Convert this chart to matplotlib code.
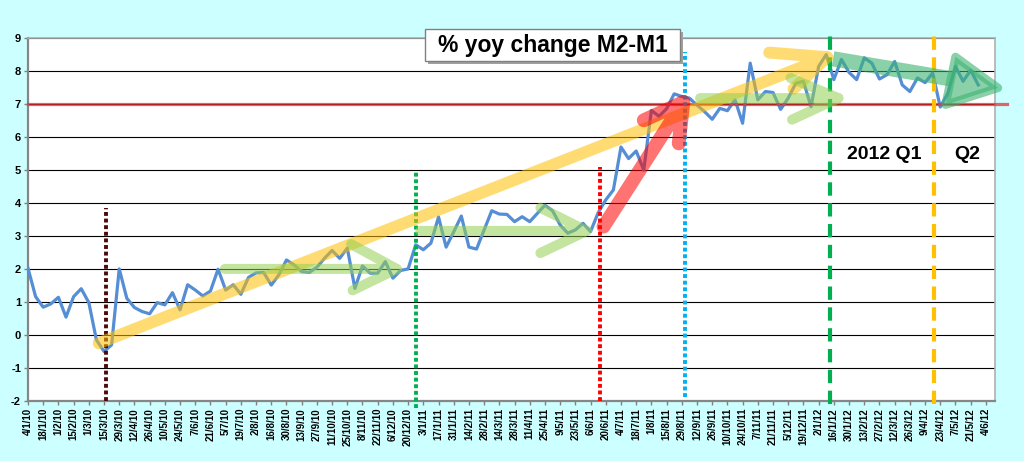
import matplotlib
matplotlib.use("Agg")
import matplotlib.pyplot as plt
import pandas as pd
from matplotlib.path import Path
from matplotlib.patches import PathPatch, Polygon, Rectangle

plt.rcParams["font.family"] = ["Liberation Sans", "DejaVu Sans"]

# weekly % yoy change of M2-M1, from 4/1/10
yoy = [
    2.02, 1.16, 0.84, 0.94, 1.14, 0.54, 1.16, 1.40, 0.98, -0.15,
    -0.50, -0.30, 2.00, 1.11, 0.83, 0.71, 0.64, 0.98, 0.91, 1.28,
    0.76, 1.52, 1.36, 1.18, 1.33, 1.99, 1.36, 1.52, 1.23, 1.74,
    1.88, 1.89, 1.51, 1.82, 2.27, 2.12, 1.92, 1.89, 2.05, 2.32,
    2.56, 2.32, 2.63, 1.41, 2.09, 1.87, 1.87, 2.22, 1.72, 1.95,
    2.00, 2.73, 2.58, 2.78, 3.57, 2.66, 3.12, 3.60, 2.66, 2.60,
    3.18, 3.76, 3.66, 3.65, 3.43, 3.58, 3.43, 3.68, 3.93, 3.76,
    3.33, 3.08, 3.18, 3.38, 3.13, 3.70, 4.09, 4.39, 5.69, 5.34,
    5.57, 4.99, 6.80, 6.62, 6.85, 7.30, 7.22, 7.17, 6.96, 6.76,
    6.53, 6.86, 6.79, 7.12, 6.41, 8.23, 7.12, 7.37, 7.34, 6.83,
    7.17, 7.62, 7.68, 6.91, 8.13, 8.49, 7.73, 8.34, 7.95, 7.73,
    8.39, 8.23, 7.75, 7.88, 8.28, 7.57, 7.37, 7.78, 7.64, 7.93,
    6.90, 7.32, 8.13, 7.68, 8.01, 7.57,
]

# category axis: weekly dates, labelled every 2 weeks
weeks = pd.date_range("2010-01-04", periods=128, freq="7D")
tick_pos = list(range(0, 128, 2))
tick_labels = [f"{d.day}/{d.month}/{d.strftime('%y')}" for d in weeks[::2]]

# marker lines (week index)
vlines = [
    # x, y0, y1, color, style
    (10.2, -2.0, 3.85, "#4d0a0a", "dot"),
    (51.0, -2.2, 5.0, "#00b050", "dot"),
    (75.2, -2.0, 5.1, "#ff0000", "dot"),
    (86.4, -1.87, 8.58, "#00b0f0", "dot"),
    (105.5, -2.1, 9.15, "#00b050", "dash"),
    (119.2, -2.1, 9.15, "#ffc000", "dash"),
]

fig = plt.figure(figsize=(10.24, 4.61), dpi=100, facecolor="#ccffff")
ax = fig.add_axes([28 / 1024, 1 - 401 / 461, 967 / 1024, (401 - 37.7) / 461])
ax.set_facecolor("white")

ax.set_xlim(0, 127.2)
ax.set_ylim(-2, 9)
ax.set_yticks(range(-2, 10))
ax.set_yticklabels([str(v) for v in range(-2, 10)], fontsize=8, fontweight="bold")
ax.set_xticks(tick_pos)
ax.set_xticklabels(tick_labels, rotation=90, fontsize=7, fontweight="bold")
ax.tick_params(axis="both", length=3, width=1, color="#808080", pad=2)
ax.grid(axis="y", color="black", linewidth=0.8)
ax.set_axisbelow(True)
for side in ["left", "bottom"]:
    ax.spines[side].set_color("#868686")
    ax.spines[side].set_linewidth(1.6)
for side in ["top", "right"]:
    ax.spines[side].set_color("#b0b0b0")
    ax.spines[side].set_linewidth(1.2)

# the series
ax.plot(range(len(yoy)), yoy, color="#558ed5", linewidth=2.3, zorder=3,
        solid_joinstyle="round")

# red 7% line
ax.plot([0, 128.8], [7, 7], color="#e83030", alpha=0.75, linewidth=2.3,
        clip_on=False, zorder=4)

for x, y0, y1, col, style in vlines:
    if style == "dot":
        ls = (0, (1, 0.7))
        lw = 2.8
    else:
        ls = (0, (3.2, 1.8))
        lw = 3.0
    ax.plot([x, x], [y0, y1], color=col, linestyle=ls, linewidth=lw,
            clip_on=False, zorder=5)


def chevron(start, tip, arm1, arm2, color, alpha, lw):
    verts = [start, tip, arm1, tip, arm2]
    codes = [Path.MOVETO, Path.LINETO, Path.MOVETO, Path.LINETO, Path.LINETO]
    patch = PathPatch(Path(verts, codes), fill=False, edgecolor=color,
                      alpha=alpha, linewidth=lw, capstyle="round",
                      joinstyle="round", clip_on=False, zorder=6)
    ax.add_patch(patch)


# yellow long-run arrow
chevron((9.3, -0.25), (105.1, 8.41), (97.5, 8.55), (100.7, 7.45),
        "#ffc000", 0.55, 8.6)
# light green sideways arrows
chevron((25.9, 2.0), (48.5, 2.0), (42.5, 2.75), (42.7, 1.35),
        "#92d050", 0.55, 7.2)
chevron((51.6, 3.15), (73.5, 3.15), (67.4, 3.85), (67.4, 2.48),
        "#92d050", 0.55, 7.2)
chevron((88.4, 7.17), (106.6, 7.17), (100.3, 7.78), (100.5, 6.52),
        "#92d050", 0.55, 7.2)
# red jump arrow
chevron((75.7, 3.28), (86.2, 7.05), (81.0, 6.5), (85.6, 5.8),
        "#ff0000", 0.55, 10)

# green 2012 arrow: thick shaft + filled head
ax.plot([105.9, 121.5], [8.36, 7.75], color="#3cb371", alpha=0.6,
        linewidth=11, solid_capstyle="butt", clip_on=False, zorder=6)
head = Polygon([(127.6, 7.48), (122.0, 8.42), (120.7, 6.97)], closed=True,
               facecolor="#3cb371", edgecolor="#3cb371", alpha=0.6,
               linewidth=6, joinstyle="round", clip_on=False, zorder=6)
ax.add_patch(head)

ax.text(112.6, 5.45, "2012 Q1", ha="center", va="center", fontsize=14,
        fontweight="bold", zorder=7)
ax.text(123.6, 5.45, "Q2", ha="center", va="center", fontsize=14,
        fontweight="bold", zorder=7)

# title box with shadow
fig.patches.append(Rectangle((428 / 1024, 1 - 64 / 461), 255 / 1024, 32 / 461,
                             transform=fig.transFigure, facecolor="#a0a0a0",
                             edgecolor="none", zorder=8))
fig.patches.append(Rectangle((425 / 1024, 1 - 61 / 461), 255 / 1024, 32 / 461,
                             transform=fig.transFigure, facecolor="white",
                             edgecolor="#808080", linewidth=1, zorder=9))
fig.text(552.5 / 1024, 1 - 45.5 / 461, "% yoy change M2-M1", ha="center",
         va="center", fontsize=16.5, fontweight="bold", zorder=10)

fig.savefig("out.png", dpi=100, facecolor=fig.get_facecolor())
